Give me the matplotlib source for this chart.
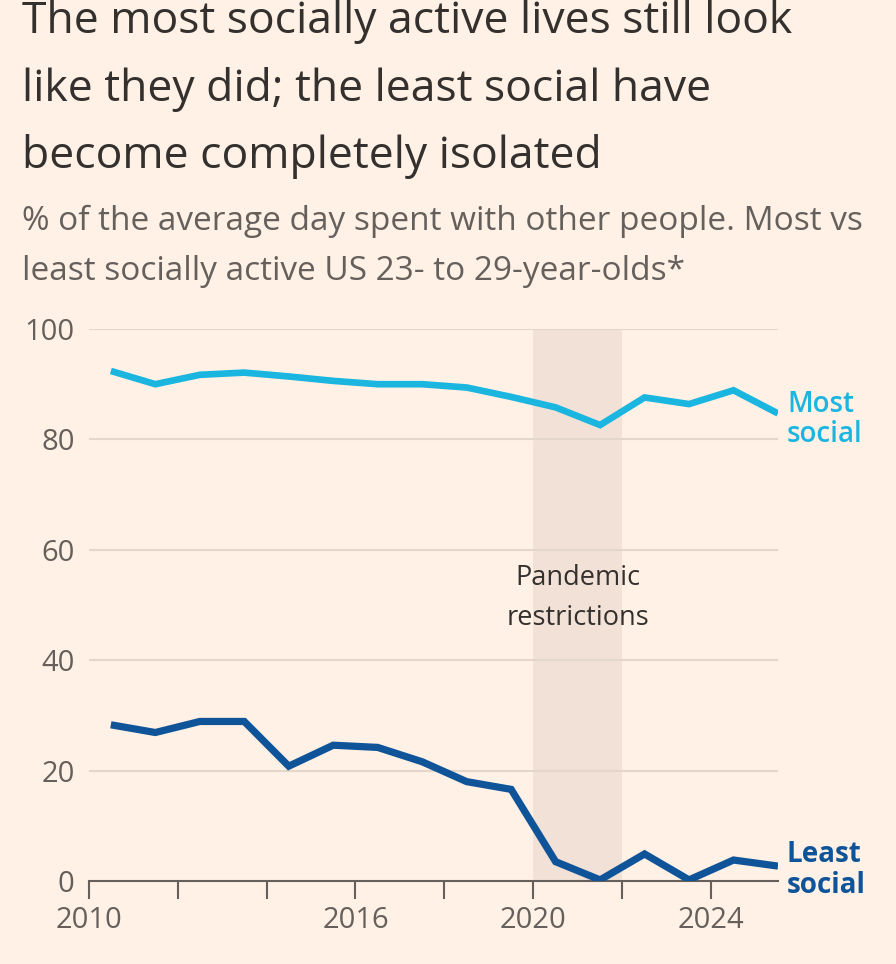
import matplotlib
matplotlib.use("Agg")
import matplotlib.pyplot as plt
import numpy as np

# data (values plotted at mid-year)
years = np.arange(2010, 2026)
most_social = [92.4, 90.0, 91.7, 92.1, 91.4, 90.6, 90.0, 90.0, 89.4, 87.7,
               85.8, 82.6, 87.6, 86.4, 88.9, 84.7]
least_social = [28.3, 26.9, 28.9, 28.9, 20.8, 24.6, 24.2, 21.6, 18.0, 16.6,
                3.5, 0.2, 4.9, 0.2, 3.8, 2.7]
y_ticks = [0, 20, 40, 60, 80, 100]
x_ticks = [2010, 2012, 2014, 2016, 2018, 2020, 2022, 2024]
x_labels = ["2010", "", "", "2016", "", "2020", "", "2024"]
pandemic = (2020, 2022)

# colours
bg = "#FFF1E5"
grid_c = "#E3D6CB"
shade_c = "#F2E1D6"
light_blue = "#1AB6E0"
dark_blue = "#0F5499"
text_c = "#33302E"
sub_c = "#66605C"

W, H = 896, 964
plt.rcParams['font.family'] = ['Open Sans', 'DejaVu Sans']

fig = plt.figure(figsize=(W / 100, H / 100), dpi=100, facecolor=bg)

def fx(px):
    return px / W

def fy(py):
    return 1 - py / H

# title + subtitle
title_lines = ["The most socially active lives still look",
               "like they did; the least social have",
               "become completely isolated"]
for i, line in enumerate(title_lines):
    fig.text(fx(22), fy(33 + i * 67.5), line, fontsize=32, color=text_c,
             va="baseline", ha="left")
sub_lines = ["% of the average day spent with other people. Most vs",
             "least socially active US 23- to 29-year-olds*"]
for i, line in enumerate(sub_lines):
    fig.text(fx(22), fy(230 + i * 50), line, fontsize=24, color=sub_c,
             va="baseline", ha="left")

ax = fig.add_axes([fx(88.6), fy(881), fx(778) - fx(88.6), fy(329) - fy(881)])
ax.set_facecolor(bg)

ax.axvspan(pandemic[0], pandemic[1], color=shade_c, zorder=0, lw=0)
for v in y_ticks[1:]:
    ax.axhline(v, color=grid_c, lw=1.5, zorder=1)

x = years + 0.5
ax.plot(x, most_social, color=light_blue, lw=4.8, zorder=3,
        solid_joinstyle="miter", solid_capstyle="butt")
ax.plot(x, least_social, color=dark_blue, lw=5.2, zorder=3,
        solid_joinstyle="miter", solid_capstyle="butt")

ax.set_xlim(2010, 2025.5)
ax.set_ylim(0, 100)
ax.set_yticks(y_ticks)
ax.set_xticks(x_ticks)
ax.set_xticklabels(x_labels)
ax.tick_params(axis="y", length=0, pad=10, labelsize=21, labelcolor=sub_c)
ax.tick_params(axis="x", length=13, width=1.5, color=sub_c, pad=5,
               labelsize=21, labelcolor=sub_c)
for s in ["top", "right", "left"]:
    ax.spines[s].set_visible(False)
ax.spines["bottom"].set_color(sub_c)
ax.spines["bottom"].set_linewidth(1.5)
ax.spines["bottom"].set_zorder(2)

ax.text(2021, 57.5, "Pandemic\nrestrictions", ha="center", va="top",
        fontsize=19.5, color=text_c, linespacing=1.6)

ax.text(2025.7, 83.6, "Most\nsocial", ha="left", va="center",
        fontsize=20, color=light_blue, fontweight="semibold", linespacing=1.05,
        clip_on=False)
ax.text(2025.7, 2.0, "Least\nsocial", ha="left", va="center",
        fontsize=20, color=dark_blue, fontweight="bold", linespacing=1.05,
        clip_on=False)

fig.savefig("out.png", dpi=100, facecolor=bg)
